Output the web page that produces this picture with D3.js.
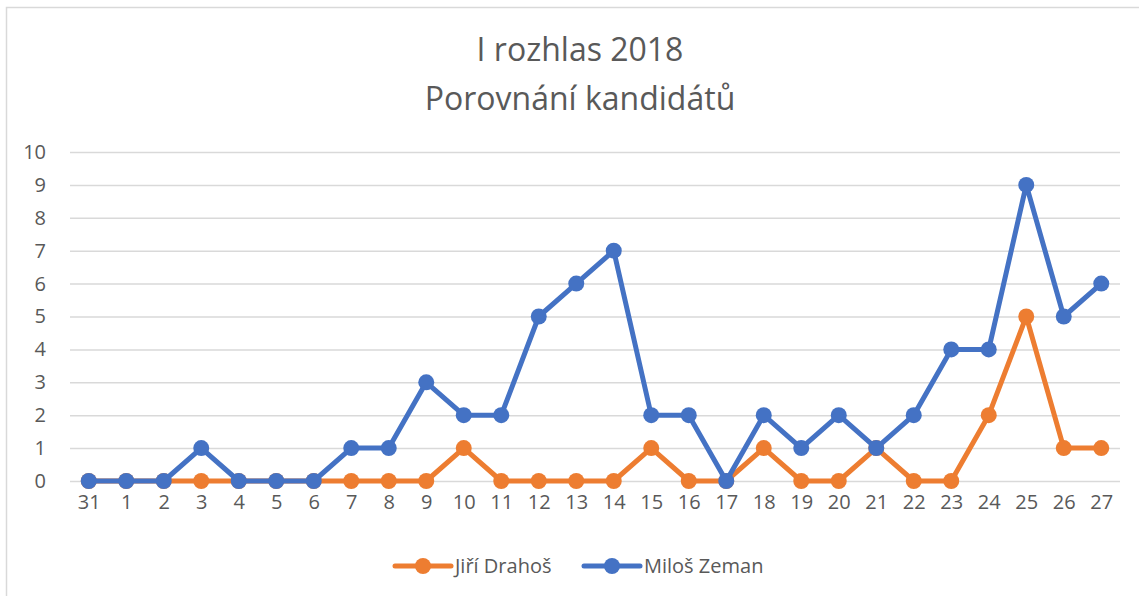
<!DOCTYPE html>
<html>
<head>
<meta charset="utf-8">
<title>I rozhlas 2018</title>
<script src="https://d3js.org/d3.v7.min.js"></script>
<style>
  body { margin: 0; background: #fff; }
  text { font-family: "Open Sans", "Liberation Sans", sans-serif; fill: #595959; }
</style>
</head>
<body>
<script>
// dny (31. prosince, pak leden)
var days = ["31", "1", "2", "3", "4", "5", "6", "7", "8", "9", "10", "11", "12", "13",
            "14", "15", "16", "17", "18", "19", "20", "21", "22", "23", "24", "25", "26", "27"];
var drahos = [0, 0, 0, 0, 0, 0, 0, 0, 0, 0, 1, 0, 0, 0, 0, 1, 0, 0, 1, 0, 0, 1, 0, 0, 2, 5, 1, 1];
var zeman  = [0, 0, 0, 1, 0, 0, 0, 1, 1, 3, 2, 2, 5, 6, 7, 2, 2, 0, 2, 1, 2, 1, 2, 4, 4, 9, 5, 6];
var yTicks = [0, 1, 2, 3, 4, 5, 6, 7, 8, 9, 10];
var titleLines = ["I rozhlas 2018", "Porovnání kandidátů"];

var series = [
  {name: "Jiří Drahoš", values: drahos, color: "#ED7D31"},
  {name: "Miloš Zeman", values: zeman, color: "#4472C4"}
];

var W = 1139, H = 596;
var svg = d3.select("body").append("svg")
    .attr("width", W)
    .attr("height", H);

// rámeček grafu (jen horní a levý okraj je vidět)
svg.append("rect")
    .attr("x", 6.5).attr("y", 7.5)
    .attr("width", W + 20).attr("height", H + 20)
    .attr("fill", "#fff")
    .attr("stroke", "#d9d9d9")
    .attr("stroke-width", 1.5);

var plotL = 70, plotR = 1120, plotT = 152, plotB = 481;

var x = d3.scalePoint()
    .domain(days)
    .range([plotL, plotR])
    .padding(0.5);

var y = d3.scaleLinear()
    .domain([0, 10])
    .range([plotB, plotT]);

// titulek
svg.append("g").selectAll("text")
    .data(titleLines)
    .enter().append("text")
    .attr("x", 580)
    .attr("y", function(d, i) { return 61 + i * 49; })
    .attr("text-anchor", "middle")
    .style("font-size", "32px")
    .text(function(d) { return d; });

// osa y + mřížka
var yAxis = svg.append("g")
    .attr("transform", "translate(" + plotL + ",0)")
    .call(d3.axisLeft(y).tickValues(yTicks).tickSize(-(plotR - plotL)).tickPadding(24));
yAxis.select(".domain").remove();
yAxis.selectAll("line").attr("stroke", "#d9d9d9").attr("stroke-width", 1.5);
yAxis.selectAll("text").style("font-size", "20px").style("fill", "#595959");

// osa x
var xAxis = svg.append("g")
    .attr("transform", "translate(0," + plotB + ")")
    .call(d3.axisBottom(x).tickSize(0).tickPadding(14));
xAxis.select(".domain").remove();
xAxis.selectAll("text").style("font-size", "20px").style("fill", "#595959");

var line = d3.line()
    .x(function(d, i) { return x(days[i]); })
    .y(function(d) { return y(d); });

series.forEach(function(s) {
  var g = svg.append("g");
  g.append("path")
      .datum(s.values)
      .attr("d", line)
      .attr("fill", "none")
      .attr("stroke", s.color)
      .attr("stroke-width", 5)
      .attr("stroke-linejoin", "round")
      .attr("stroke-linecap", "round");
  g.selectAll("circle")
      .data(s.values)
      .enter().append("circle")
      .attr("cx", function(d, i) { return x(days[i]); })
      .attr("cy", function(d) { return y(d); })
      .attr("r", 8)
      .attr("fill", s.color);
});

// legenda
var legX = [395, 584];
var legend = svg.append("g").selectAll("g")
    .data(series)
    .enter().append("g")
    .attr("transform", function(d, i) { return "translate(" + legX[i] + ",566)"; });
legend.append("line")
    .attr("x1", 0).attr("x2", 56)
    .attr("stroke", function(d) { return d.color; })
    .attr("stroke-width", 5)
    .attr("stroke-linecap", "round");
legend.append("circle")
    .attr("cx", 28).attr("r", 8)
    .attr("fill", function(d) { return d.color; });
legend.append("text")
    .attr("x", 60).attr("dy", "0.35em")
    .style("font-size", "20px")
    .text(function(d) { return d.name; });
</script>
</body>
</html>
